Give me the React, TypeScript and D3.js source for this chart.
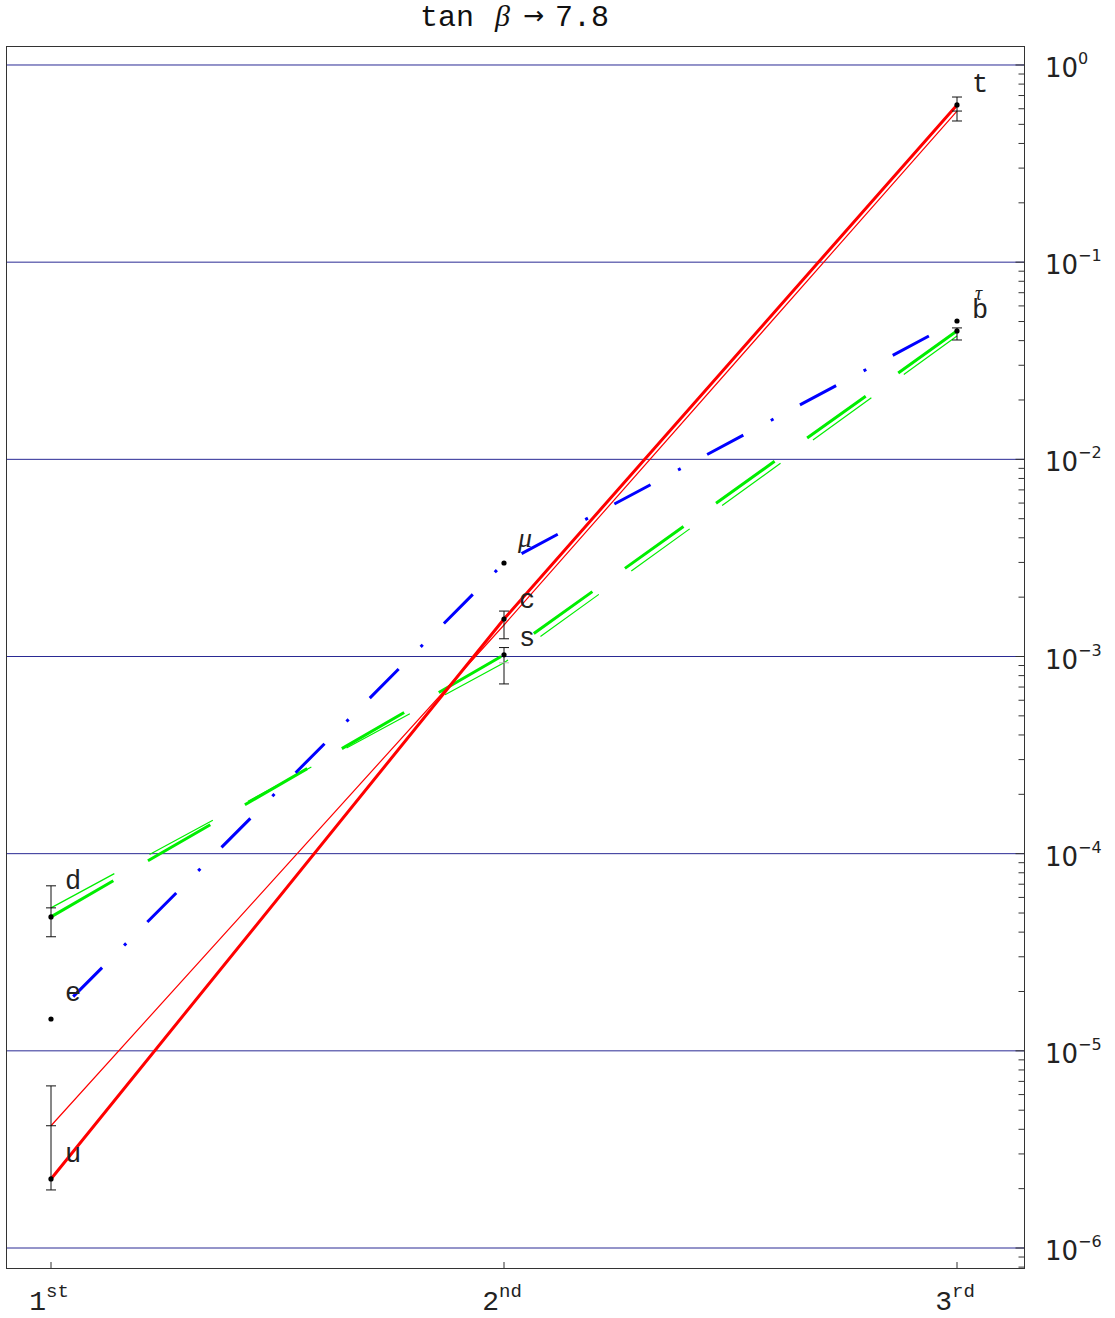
import React from "react";
import * as d3 from "d3";

// ---------- data ----------
const generations = [1, 2, 3];
const genNumbers = ["1", "2", "3"];
const genSuffix = ["st", "nd", "rd"];

const upNames = ["u", "c", "t"];
const upMass = [2.24e-6, 1.55e-3, 0.627];
const upMassAlt = [4.17e-6, 1.445e-3, 0.584];
const upLow = [1.97e-6, 1.23e-3, 0.52];
const upHigh = [6.64e-6, 1.7e-3, 0.688];

const downNames = ["d", "s", "b"];
const downMass = [4.78e-5, 1.02e-3, 0.0448];
const downMassAlt = [5.31e-5, 9.29e-4, 0.0422];
const downLow = [3.79e-5, 7.26e-4, 0.0403];
const downHigh = [6.87e-5, 1.11e-3, 0.0464];

const leptonNames = ["e", "μ", "τ"];
const leptonMass = [1.45e-5, 2.98e-3, 0.0503];

const decades = [0, -1, -2, -3, -4, -5, -6];
const titleParts = ["tan", "β", "→", "7.8"];

// ---------- layout ----------
const W = 1115;
const H = 1318;
const frame = { left: 6, right: 1024, top: 46, bottom: 1268 };
const x = d3.scaleLinear().domain([1, 3]).range([51, 957]);
const y = d3
  .scaleLog()
  .domain([Math.pow(10, 0.09636), Math.pow(10, -6.1014)])
  .range([frame.top, frame.bottom]);

const mono = "'Liberation Mono', 'DejaVu Sans Mono', monospace";
const serif = "'Liberation Serif', 'DejaVu Serif', serif";
const sans = "'DejaVu Sans', sans-serif";

const line = d3
  .line<number>()
  .x((_, i) => x(generations[i]))
  .y((v) => y(v));

function ErrorBar({ g, lo, hi }: { g: number; lo: number; hi: number }) {
  const cx = x(g);
  return (
    <g stroke="#111" strokeWidth={1}>
      <line x1={cx} x2={cx} y1={y(lo)} y2={y(hi)} />
      <line x1={cx - 5} x2={cx + 5} y1={y(lo)} y2={y(lo)} />
      <line x1={cx - 5} x2={cx + 5} y1={y(hi)} y2={y(hi)} />
    </g>
  );
}

export default function App() {
  // right-axis ticks
  const ticks: { v: number; major: boolean }[] = [];
  const [dmax, dmin] = y.domain();
  for (let d = -7; d <= 0; d++) {
    for (let k = 1; k <= 9; k++) {
      const v = k * Math.pow(10, d);
      if (v <= dmax && v >= dmin) ticks.push({ v, major: k === 1 });
    }
  }

  // where the alternate (thin) series get a small marker on the error bar
  const altMarks = [
    { g: 1, v: upMassAlt[0], c: "#111" },
    { g: 3, v: upMassAlt[2], c: "#111" },
    { g: 1, v: downMassAlt[0], c: "#111" },
    { g: 2, v: downMassAlt[1], c: "#bbb" },
  ];

  const labelOffsets: Record<string, [number, number]> = {
    u: [14, -17],
    c: [15, -11],
    t: [15, -13],
    d: [14, -28],
    s: [15, -9],
    b: [15, -13],
    e: [14, -18],
    "μ": [14, -16],
    "τ": [18, -21],
  };

  const pointLabels = [
    ...upNames.map((n, i) => ({ n, g: generations[i], v: upMass[i] })),
    ...downNames.map((n, i) => ({ n, g: generations[i], v: downMass[i] })),
    ...leptonNames.map((n, i) => ({ n, g: generations[i], v: leptonMass[i] })),
  ];

  return (
    <svg
      width={W}
      height={H}
      viewBox={`0 0 ${W} ${H}`}
      style={{ position: "absolute", left: 0, top: 0, background: "#fff" }}
    >
      <rect x={0} y={0} width={W} height={H} fill="#fff" />

      {/* title */}
      <text y={26} fontSize={30} fill="#111">
        <tspan x={420} fontFamily={mono}>{titleParts[0]}</tspan>
        <tspan x={495} fontFamily={serif} fontStyle="italic">{titleParts[1]}</tspan>
        <tspan x={523} y={24} fontFamily={sans} fontSize={25}>{titleParts[2]}</tspan>
        <tspan x={555} y={26} fontFamily={mono}>{titleParts[3]}</tspan>
      </text>

      {/* decade grid lines */}
      {decades.map((d) => (
        <line
          key={d}
          x1={frame.left}
          x2={frame.right}
          y1={y(Math.pow(10, d))}
          y2={y(Math.pow(10, d))}
          stroke="#2a2a94"
          strokeWidth={1}
        />
      ))}

      {/* frame */}
      <rect
        x={frame.left + 0.5}
        y={frame.top + 0.5}
        width={frame.right - frame.left}
        height={frame.bottom - frame.top}
        fill="none"
        stroke="#333"
        strokeWidth={1}
      />

      {/* right ticks */}
      {ticks.map((t, i) => (
        <line
          key={i}
          x1={frame.right + 0.5 - (t.major ? 9 : 6)}
          x2={frame.right + 0.5}
          y1={y(t.v)}
          y2={y(t.v)}
          stroke="#333"
          strokeWidth={1}
        />
      ))}

      {/* bottom ticks */}
      {generations.map((g) => (
        <line
          key={g}
          x1={x(g)}
          x2={x(g)}
          y1={frame.bottom}
          y2={frame.bottom - 6}
          stroke="#333"
          strokeWidth={1}
        />
      ))}

      {/* right labels */}
      {decades.map((d) => (
        <text
          key={d}
          x={1045}
          y={y(Math.pow(10, d)) + 12}
          fontFamily={sans}
          fontSize={26}
          fill="#222"
        >
          10
          <tspan dy={-13} fontSize={16}>
            {d === 0 ? "0" : "−" + Math.abs(d)}
          </tspan>
        </text>
      ))}

      {/* bottom labels */}
      {generations.map((g, i) => (
        <text
          key={g}
          x={x(g) - 2}
          y={1310}
          textAnchor="middle"
          fontFamily={mono}
          fontSize={28}
          fill="#222"
        >
          {genNumbers[i]}
          <tspan dy={-13} fontSize={19}>
            {genSuffix[i]}
          </tspan>
        </text>
      ))}

      {/* down-type quarks: green dashed */}
      <path
        d={line(downMassAlt) || ""}
        fill="none"
        stroke="#00ee00"
        strokeWidth={1.2}
        strokeDasharray="72 40"
      />
      <path
        d={line(downMass) || ""}
        fill="none"
        stroke="#00ee00"
        strokeWidth={3}
        strokeDasharray="72 40"
      />

      {/* leptons: blue dash-dot */}
      <path
        d={line(leptonMass) || ""}
        fill="none"
        stroke="#0000ff"
        strokeWidth={3}
        strokeDasharray="3 30 41 31.2"
        strokeDashoffset={1.5}
      />

      {/* up-type quarks: red solid */}
      <path
        d={line(upMassAlt) || ""}
        fill="none"
        stroke="#ff0000"
        strokeWidth={1.2}
      />
      <path
        d={line(upMass) || ""}
        fill="none"
        stroke="#ff0000"
        strokeWidth={3}
      />

      {/* error bars */}
      {generations.map((g, i) => (
        <ErrorBar key={"u" + g} g={g} lo={upLow[i]} hi={upHigh[i]} />
      ))}
      {generations.map((g, i) => (
        <ErrorBar key={"d" + g} g={g} lo={downLow[i]} hi={downHigh[i]} />
      ))}
      {altMarks.map((m, i) => (
        <line
          key={i}
          x1={x(m.g) - 5}
          x2={x(m.g) + 5}
          y1={y(m.v)}
          y2={y(m.v)}
          stroke={m.c}
          strokeWidth={1}
        />
      ))}

      {/* points */}
      {pointLabels.map((p) => (
        <circle key={p.n} cx={x(p.g)} cy={y(p.v)} r={2.6} fill="#000" />
      ))}

      {/* point labels */}
      {pointLabels.map((p) => {
        const [dx, dy] = labelOffsets[p.n];
        const greek = p.n === "μ" || p.n === "τ";
        return (
          <text
            key={p.n}
            x={x(p.g) + dx}
            y={y(p.v) + dy}
            fontFamily={greek ? serif : mono}
            fontStyle={greek ? "italic" : "normal"}
            fontSize={p.n === "τ" ? 20 : greek ? 28 : 27}
            fill="#222"
          >
            {p.n}
          </text>
        );
      })}
    </svg>
  );
}
